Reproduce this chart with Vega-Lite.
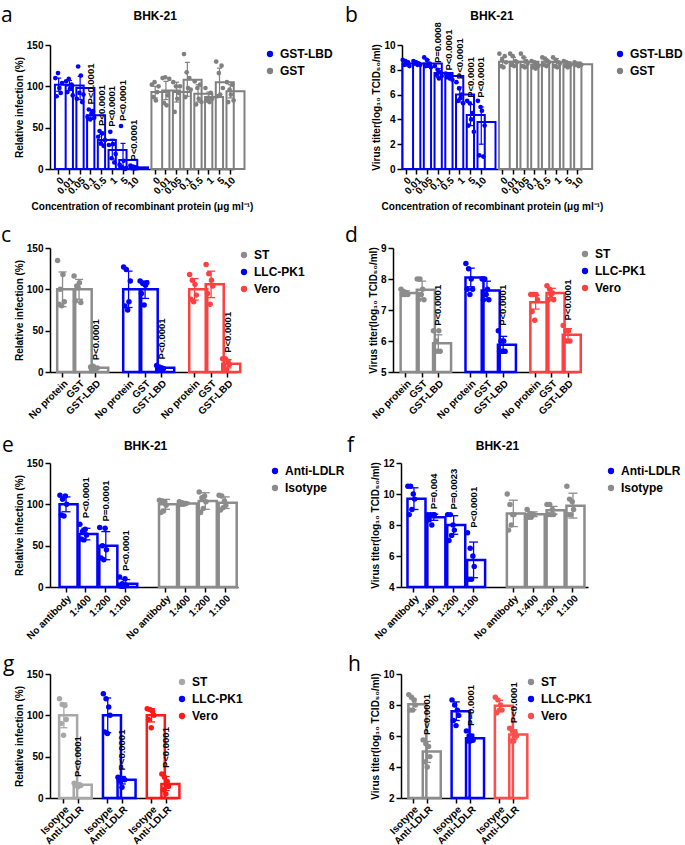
{
"$schema":"https://vega.github.io/schema/vega-lite/v6.json",
"padding":{"left":1,"top":4,"right":0,"bottom":0},
"config":{
 "view":{"stroke":null},
 "font":"Liberation Sans",
 "axis":{"domainColor":"#000","domainWidth":1.5,"tickColor":"#000","tickWidth":1.5,"tickSize":5,"labelFont":"Liberation Sans","labelFontWeight":"bold","labelFontSize":10,"labelColor":"#000","titleFont":"Liberation Sans","titleFontSize":10,"titleFontWeight":"bold","titleColor":"#000","grid":false,"labelOverlap":false},
 "axisY":{"titlePadding":2},
 "axisX":{"labelPadding":1},
 "legend":{"labelFont":"Liberation Sans","labelFontSize":12,"labelFontWeight":"bold","labelColor":"#000","symbolSize":40,"rowPadding":5,"symbolType":"circle","orient":"none"},
 "title":{"font":"Open Sans","fontSize":21,"fontWeight":"normal","color":"#000","anchor":"start","frame":"group"}
},
"datasets":{
"one":[{}],
"a":[
{"c":"L|0","g":"GST-LBD","m":102,"lo":94,"hi":110,"v":[110,88,116,98,92,104]},
{"c":"L|0.01","g":"GST-LBD","m":101,"lo":95,"hi":107,"v":[106,93,109,97,102,89]},
{"c":"L|0.05","g":"GST-LBD","m":98,"lo":84,"hi":112,"v":[85,124,92,113,81,90]},
{"c":"L|0.1","g":"GST-LBD","m":65,"lo":60,"hi":71,"v":[63,72,60,67,70,62],"p":"P<0.0001"},
{"c":"L|0.5","g":"GST-LBD","m":35,"lo":29,"hi":42,"v":[39,46,31,43,28,35],"p":"P<0.0001"},
{"c":"L|1","g":"GST-LBD","m":23,"lo":12,"hi":36,"v":[29,45,13,30,8,18],"p":"P<0.0001"},
{"c":"L|5","g":"GST-LBD","m":11,"lo":2,"hi":31,"v":[5,52,2,10,0,1],"p":"P<0.0001"},
{"c":"L|10","g":"GST-LBD","m":2,"lo":1,"hi":3,"v":[4,1,3,0.5,2,1],"p":"P<0.0001"},
{"c":"G|0","g":"GST","m":93,"lo":86,"hi":100,"v":[102,87,105,83,93,100]},
{"c":"G|0.01","g":"GST","m":95,"lo":84,"hi":106,"v":[110,80,111,77,89,109]},
{"c":"G|0.05","g":"GST","m":93,"lo":81,"hi":105,"v":[105,69,100,85,92,100]},
{"c":"G|0.1","g":"GST","m":108,"lo":88,"hi":129,"v":[139,87,117,98,110,96]},
{"c":"G|0.5","g":"GST","m":91,"lo":81,"hi":102,"v":[106,78,98,85,102,81]},
{"c":"G|1","g":"GST","m":87,"lo":81,"hi":93,"v":[98,83,86,81,92,85]},
{"c":"G|5","g":"GST","m":105,"lo":89,"hi":122,"v":[130,88,116,90,125,98]},
{"c":"G|10","g":"GST","m":94,"lo":86,"hi":102,"v":[105,81,96,90,102,83]}
],
"b":[
{"c":"L|0","g":"GST-LBD","m":8.5,"lo":8.3,"hi":8.7,"v":[8.8,8.4,8.7,8.5,8.6,8.3]},
{"c":"L|0.01","g":"GST-LBD","m":8.5,"lo":8.4,"hi":8.65,"v":[8.7,8.5,8.6,8.4,8.5,8.4]},
{"c":"L|0.05","g":"GST-LBD","m":8.5,"lo":8.2,"hi":8.8,"v":[9.0,8.3,8.8,8.4,8.5,8.2]},
{"c":"L|0.1","g":"GST-LBD","m":7.75,"lo":7.4,"hi":8.1,"v":[8.3,7.6,8.0,7.3,7.8,7.5],"p":"P=0.0008"},
{"c":"L|0.5","g":"GST-LBD","m":7.5,"lo":7.3,"hi":7.7,"v":[7.7,7.4,7.6,7.3,7.5,7.2],"p":"P<0.0001"},
{"c":"L|1","g":"GST-LBD","m":6.0,"lo":5.4,"hi":6.6,"v":[7.0,5.5,6.5,5.7,6.0,5.3],"p":"P<0.0001"},
{"c":"L|5","g":"GST-LBD","m":4.35,"lo":3.5,"hi":5.2,"v":[5.5,3.5,5.3,4.0,4.5,3.0],"p":"P<0.0001"},
{"c":"L|10","g":"GST-LBD","m":3.8,"lo":2.0,"hi":5.0,"v":[5.5,1.1,5.0,4.7,1.0,3.5],"p":"P<0.0001"},
{"c":"G|0","g":"GST","m":8.65,"lo":8.3,"hi":9.0,"v":[9.3,8.3,8.8,8.2,9.1,8.6]},
{"c":"G|0.01","g":"GST","m":8.65,"lo":8.3,"hi":9.0,"v":[9.3,8.4,9.1,8.3,8.7,8.6]},
{"c":"G|0.05","g":"GST","m":8.65,"lo":8.3,"hi":9.0,"v":[9.3,8.3,9.0,8.2,8.7,8.5]},
{"c":"G|0.1","g":"GST","m":8.4,"lo":8.2,"hi":8.6,"v":[8.7,8.2,8.6,8.1,8.4,8.3]},
{"c":"G|0.5","g":"GST","m":8.65,"lo":8.4,"hi":8.9,"v":[9.0,8.4,8.9,8.3,8.7,8.6]},
{"c":"G|1","g":"GST","m":8.6,"lo":8.3,"hi":8.9,"v":[9.0,8.3,8.8,8.2,8.6,8.5]},
{"c":"G|5","g":"GST","m":8.45,"lo":8.3,"hi":8.6,"v":[8.7,8.3,8.6,8.2,8.5,8.4]},
{"c":"G|10","g":"GST","m":8.45,"lo":8.35,"hi":8.55,"v":[8.6,8.4,8.5,8.3,8.5,8.4]}
],
"c":[
{"c":"S|No protein","g":"ST","m":100,"lo":79,"hi":121,"v":[135,82,100,80,118,85]},
{"c":"S|GST","g":"ST","m":100,"lo":88,"hi":112,"v":[116,86,104,102,108,84]},
{"c":"S|GST-LBD","g":"ST","m":5,"lo":4,"hi":6,"v":[6,4,7,5,4,5],"p":"P<0.0001"},
{"c":"K|No protein","g":"LLC-PK1","m":100,"lo":78,"hi":122,"v":[127,80,124,75,85,110]},
{"c":"K|GST","g":"LLC-PK1","m":100,"lo":89,"hi":110,"v":[110,95,107,81,105,108]},
{"c":"K|GST-LBD","g":"LLC-PK1","m":5,"lo":4,"hi":6,"v":[8,4,6,3,5,4],"p":"P<0.0001"},
{"c":"V|No protein","g":"Vero","m":100,"lo":87,"hi":113,"v":[118,88,111,85,106,93]},
{"c":"V|GST","g":"Vero","m":106,"lo":90,"hi":122,"v":[130,95,119,82,111,104]},
{"c":"V|GST-LBD","g":"Vero","m":10,"lo":5,"hi":15,"v":[16,6,16,3,13,9],"p":"P<0.0001"}
],
"d":[
{"c":"S|No protein","g":"ST","m":7.55,"lo":7.5,"hi":7.62,"v":[7.67,7.5,7.6,7.5,7.55,7.5]},
{"c":"S|GST","g":"ST","m":7.65,"lo":7.35,"hi":7.93,"v":[8.0,7.33,8.0,7.5,7.67,7.33]},
{"c":"S|GST-LBD","g":"ST","m":5.93,"lo":5.65,"hi":6.2,"v":[6.33,5.67,6.0,5.67,6.33,5.67],"p":"P<0.0001"},
{"c":"K|No protein","g":"LLC-PK1","m":8.05,"lo":7.75,"hi":8.35,"v":[8.5,7.67,8.33,7.5,8.0,7.67]},
{"c":"K|GST","g":"LLC-PK1","m":7.63,"lo":7.33,"hi":7.93,"v":[8.0,7.33,8.0,7.5,7.67,7.33]},
{"c":"K|GST-LBD","g":"LLC-PK1","m":5.88,"lo":5.62,"hi":6.15,"v":[6.33,5.67,6.0,5.67,6.0,5.67],"p":"P<0.0001"},
{"c":"V|No protein","g":"Vero","m":7.25,"lo":7.03,"hi":7.47,"v":[7.5,6.95,7.5,6.67,7.5,7.33]},
{"c":"V|GST","g":"Vero","m":7.55,"lo":7.4,"hi":7.7,"v":[7.78,7.33,7.67,7.5,7.55,7.33]},
{"c":"V|GST-LBD","g":"Vero","m":6.2,"lo":6.0,"hi":6.4,"v":[6.5,6.0,6.33,6.0,6.33,6.0],"p":"P<0.0001"}
],
"e":[
{"c":"A|No antibody","g":"Anti-LDLR","m":100,"lo":91,"hi":109,"v":[111,87,106,86,110,100]},
{"c":"A|1:400","g":"Anti-LDLR","m":64,"lo":57,"hi":71,"v":[76,58,67,57,70,63],"p":"P<0.0001"},
{"c":"A|1:200","g":"Anti-LDLR","m":50,"lo":33,"hi":67,"v":[72,35,50,33,71,45],"p":"P=0.0001"},
{"c":"A|1:100","g":"Anti-LDLR","m":4,"lo":0,"hi":9,"v":[12,1,4,1,10,2],"p":"P<0.0001"},
{"c":"I|No antibody","g":"Isotype","m":100,"lo":94,"hi":106,"v":[105,90,104,92,103,99]},
{"c":"I|1:400","g":"Isotype","m":101,"lo":100,"hi":102.5,"v":[103,100,102,100,101,101]},
{"c":"I|1:200","g":"Isotype","m":104,"lo":94,"hi":114,"v":[115,90,108,95,110,103]},
{"c":"I|1:100","g":"Isotype","m":102,"lo":95,"hi":109,"v":[111,93,110,96,104,99]}
],
"f":[
{"c":"A|No antibody","g":"Anti-LDLR","m":9.7,"lo":9.0,"hi":10.4,"v":[10.5,8.67,10.5,9.0,10.0,9.67]},
{"c":"A|1:400","g":"Anti-LDLR","m":8.5,"lo":8.3,"hi":8.7,"v":[8.67,8.33,8.67,8.0,8.67,8.67],"p":"P=0.004"},
{"c":"A|1:200","g":"Anti-LDLR","m":8.0,"lo":7.4,"hi":8.6,"v":[8.67,7.0,8.67,7.33,8.0,7.67],"p":"P=0.0023"},
{"c":"A|1:100","g":"Anti-LDLR","m":5.75,"lo":4.6,"hi":6.9,"v":[7.5,4.5,6.5,4.5,6.0,5.33],"p":"P<0.0001"},
{"c":"I|No antibody","g":"Isotype","m":8.75,"lo":7.9,"hi":9.6,"v":[10.0,7.67,9.33,8.0,8.67,8.67]},
{"c":"I|1:400","g":"Isotype","m":8.7,"lo":8.55,"hi":8.85,"v":[9.0,8.5,8.75,8.5,8.67,8.67]},
{"c":"I|1:200","g":"Isotype","m":8.95,"lo":8.7,"hi":9.2,"v":[9.33,8.67,9.33,8.67,9.0,8.67]},
{"c":"I|1:100","g":"Isotype","m":9.25,"lo":8.45,"hi":10.05,"v":[10.5,8.67,9.67,8.67,9.5,9.0]}
],
"g":[
{"c":"S|Isotype","g":"ST","m":100,"lo":85,"hi":115,"v":[120,90,113,76,112,95]},
{"c":"S|Anti-LDLR","g":"ST","m":16,"lo":14.5,"hi":17.5,"v":[18,15,17,14,16,15],"p":"P<0.0001"},
{"c":"K|Isotype","g":"LLC-PK1","m":100,"lo":79,"hi":121,"v":[126,80,120,78,110,100]},
{"c":"K|Anti-LDLR","g":"LLC-PK1","m":22,"lo":17,"hi":26,"v":[25,21,24,13,23,22],"p":"P<0.0001"},
{"c":"V|Isotype","g":"Vero","m":100,"lo":92,"hi":108,"v":[108,95,107,85,105,100]},
{"c":"V|Anti-LDLR","g":"Vero","m":17,"lo":9,"hi":26,"v":[29,10,25,5,20,14],"p":"P<0.0001"}
],
"h":[
{"c":"S|Isotype","g":"ST","m":8.05,"lo":7.7,"hi":8.4,"v":[8.67,7.67,8.5,7.67,8.33,8.0]},
{"c":"S|Anti-LDLR","g":"ST","m":5.0,"lo":4.3,"hi":5.65,"v":[5.75,4.33,5.5,4.0,5.33,4.67],"p":"P<0.0001"},
{"c":"K|Isotype","g":"LLC-PK1","m":7.6,"lo":7.0,"hi":8.2,"v":[8.33,7.0,8.0,6.67,7.67,7.33]},
{"c":"K|Anti-LDLR","g":"LLC-PK1","m":5.85,"lo":5.6,"hi":6.1,"v":[6.33,5.67,6.0,5.67,6.0,5.75],"p":"P=0.0001"},
{"c":"V|Isotype","g":"Vero","m":7.95,"lo":7.6,"hi":8.3,"v":[8.5,7.5,8.33,7.67,8.0,7.67]},
{"c":"V|Anti-LDLR","g":"Vero","m":6.1,"lo":5.8,"hi":6.4,"v":[6.5,5.67,6.33,5.67,6.25,6.0],"p":"P<0.0001"}
]
},
"spacing":13,
"resolve":{"scale":{"color":"independent","stroke":"independent","fill":"independent"}},
"vconcat":[
{"spacing":168,"bounds":"flush","resolve":{"scale":{"color":"independent","stroke":"independent","fill":"independent"}},"hconcat":[
 {"width":184,"height":124,"data":{"name":"a"},
  "title":{"text":"a","dx":-49,"offset":-16},
  "encoding":{
   "x":{"field":"c","type":"nominal","scale":{"domain":["L|0","L|0.01","L|0.05","L|0.1","L|0.5","L|1","L|5","L|10","_|","G|0","G|0.01","G|0.05","G|0.1","G|0.5","G|1","G|5","G|10"],"paddingInner":0.3,"paddingOuter":0.23,"align":1},"axis":{"title":"Concentration of recombinant protein (μg ml⁻¹)","titlePadding":6,"labelAngle":-45,"labelAlign":"right","labelBaseline":"top","labelExpr":"split(datum.value,'|')[1]","tickOpacity":{"condition":{"test":"substring(datum.value,0,1)==='_'","value":0},"value":1}}}
  },
  "layer":[
   {"mark":{"type":"bar","filled":false,"strokeWidth":2},"encoding":{"y":{"field":"m","type":"quantitative","scale":{"domain":[0,150],"nice":false},"axis":{"values":[0,50,100,150],"title":"Relative infection (%)"}},"stroke":{"field":"g","type":"nominal","scale":{"domain":["GST","GST-LBD"],"range":["#808080","#0000ff"]},"legend":null}}},
   {"mark":{"type":"rule","strokeWidth":1.2},"encoding":{"y":{"field":"lo","type":"quantitative","scale":{"domain":[0,150],"nice":false},"axis":{"values":[0,50,100,150],"title":"Relative infection (%)"}},"y2":{"field":"hi"},"stroke":{"field":"g","type":"nominal","scale":{"domain":["GST","GST-LBD"],"range":["#808080","#0000ff"]},"legend":null}}},
   {"mark":{"type":"tick","thickness":1.2,"size":5,"opacity":1},"encoding":{"y":{"field":"hi","type":"quantitative","scale":{"domain":[0,150],"nice":false},"axis":{"values":[0,50,100,150],"title":"Relative infection (%)"}},"fill":{"field":"g","type":"nominal","scale":{"domain":["GST","GST-LBD"],"range":["#808080","#0000ff"]},"legend":null}}},
   {"mark":{"type":"tick","thickness":1.2,"size":5,"opacity":1},"encoding":{"y":{"field":"lo","type":"quantitative","scale":{"domain":[0,150],"nice":false},"axis":{"values":[0,50,100,150],"title":"Relative infection (%)"}},"fill":{"field":"g","type":"nominal","scale":{"domain":["GST","GST-LBD"],"range":["#808080","#0000ff"]},"legend":null}}},
   {"transform":[{"flatten":["v"]},{"window":[{"op":"row_number","as":"r"}],"groupby":["c"]}],"mark":{"type":"circle","size":22,"opacity":1},"encoding":{"xOffset":{"field":"r","type":"ordinal","scale":{"paddingOuter":0.3}},"y":{"field":"v","type":"quantitative","scale":{"domain":[0,150],"nice":false},"axis":{"values":[0,50,100,150],"title":"Relative infection (%)"}},"color":{"field":"g","type":"nominal","scale":{"domain":["GST-LBD","GST"],"range":["#0000ff","#808080"]},"legend":{"title":null,"orient":"none","legendX":214,"legendY":3}}}},
   {"transform":[{"filter":"datum.p"},{"calculate":"max(datum.hi, extent(datum.v)[1])","as":"ty"}],"mark":{"type":"text","angle":270,"align":"left","baseline":"middle","dx":5,"fontSize":9.5,"fontWeight":"bold","color":"#000"},"encoding":{"y":{"field":"ty","type":"quantitative","scale":{"domain":[0,150],"nice":false},"axis":{"values":[0,50,100,150],"title":"Relative infection (%)"}},"text":{"field":"p"}}},
   {"data":{"name":"one"},"mark":{"type":"text","fontSize":12,"fontWeight":"bold","color":"#000","baseline":"middle"},"encoding":{"x":{"datum":"G|0"},"y":{"datum":185,"type":"quantitative","scale":{"domain":[0,150],"nice":false},"axis":{"values":[0,50,100,150],"title":"Relative infection (%)"}},"text":{"value":"BHK-21"}}}
  ]},
 {"width":180,"height":124,"data":{"name":"b"},
  "title":{"text":"b","dx":-57,"offset":-16},
  "encoding":{
   "x":{"field":"c","type":"nominal","scale":{"domain":["L|0","L|0.01","L|0.05","L|0.1","L|0.5","L|1","L|5","L|10","_|","G|0","G|0.01","G|0.05","G|0.1","G|0.5","G|1","G|5","G|10"],"paddingInner":0.3,"paddingOuter":0.03},"axis":{"title":"Concentration of recombinant protein (μg ml⁻¹)","titlePadding":6,"labelAngle":-45,"labelAlign":"right","labelBaseline":"top","labelExpr":"split(datum.value,'|')[1]","tickOpacity":{"condition":{"test":"substring(datum.value,0,1)==='_'","value":0},"value":1}}}
  },
  "layer":[
   {"mark":{"type":"bar","filled":false,"strokeWidth":2},"encoding":{"y":{"field":"m","type":"quantitative","scale":{"domain":[0,10],"nice":false},"axis":{"values":[0,2,4,6,8,10],"title":"Virus titer(log₁₀ TCID₅₀/ml)"}},"stroke":{"field":"g","type":"nominal","scale":{"domain":["GST","GST-LBD"],"range":["#808080","#0000ff"]},"legend":null}}},
   {"mark":{"type":"rule","strokeWidth":1.2},"encoding":{"y":{"field":"lo","type":"quantitative","scale":{"domain":[0,10],"nice":false},"axis":{"values":[0,2,4,6,8,10],"title":"Virus titer(log₁₀ TCID₅₀/ml)"}},"y2":{"field":"hi"},"stroke":{"field":"g","type":"nominal","scale":{"domain":["GST","GST-LBD"],"range":["#808080","#0000ff"]},"legend":null}}},
   {"mark":{"type":"tick","thickness":1.2,"size":5,"opacity":1},"encoding":{"y":{"field":"hi","type":"quantitative","scale":{"domain":[0,10],"nice":false},"axis":{"values":[0,2,4,6,8,10],"title":"Virus titer(log₁₀ TCID₅₀/ml)"}},"fill":{"field":"g","type":"nominal","scale":{"domain":["GST","GST-LBD"],"range":["#808080","#0000ff"]},"legend":null}}},
   {"mark":{"type":"tick","thickness":1.2,"size":5,"opacity":1},"encoding":{"y":{"field":"lo","type":"quantitative","scale":{"domain":[0,10],"nice":false},"axis":{"values":[0,2,4,6,8,10],"title":"Virus titer(log₁₀ TCID₅₀/ml)"}},"fill":{"field":"g","type":"nominal","scale":{"domain":["GST","GST-LBD"],"range":["#808080","#0000ff"]},"legend":null}}},
   {"transform":[{"flatten":["v"]},{"window":[{"op":"row_number","as":"r"}],"groupby":["c"]}],"mark":{"type":"circle","size":22,"opacity":1},"encoding":{"xOffset":{"field":"r","type":"ordinal","scale":{"paddingOuter":0.3}},"y":{"field":"v","type":"quantitative","scale":{"domain":[0,10],"nice":false},"axis":{"values":[0,2,4,6,8,10],"title":"Virus titer(log₁₀ TCID₅₀/ml)"}},"color":{"field":"g","type":"nominal","scale":{"domain":["GST-LBD","GST"],"range":["#0000ff","#808080"]},"legend":{"title":null,"orient":"none","legendX":212,"legendY":3}}}},
   {"transform":[{"filter":"datum.p"},{"calculate":"max(datum.hi, extent(datum.v)[1])","as":"ty"}],"mark":{"type":"text","angle":270,"align":"left","baseline":"middle","dx":3,"fontSize":9.5,"fontWeight":"bold","color":"#000"},"encoding":{"y":{"field":"ty","type":"quantitative","scale":{"domain":[0,10],"nice":false},"axis":{"values":[0,2,4,6,8,10],"title":"Virus titer(log₁₀ TCID₅₀/ml)"}},"text":{"field":"p"}}},
   {"data":{"name":"one"},"mark":{"type":"text","fontSize":12,"fontWeight":"bold","color":"#000","baseline":"middle"},"encoding":{"x":{"datum":"_|"},"y":{"datum":12.35,"type":"quantitative","scale":{"domain":[0,10],"nice":false},"axis":{"values":[0,2,4,6,8,10],"title":"Virus titer(log₁₀ TCID₅₀/ml)"}},"text":{"value":"BHK-21"}}}
  ]}
]},
{"spacing":156,"bounds":"flush","resolve":{"scale":{"color":"independent","stroke":"independent","fill":"independent"}},"hconcat":[
 {"width":187,"height":124,"data":{"name":"c"},
  "title":{"text":"c","dx":-49,"offset":-3},
  "encoding":{
   "x":{"field":"c","type":"nominal","scale":{"domain":["S|No protein","S|GST","S|GST-LBD","_1|","K|No protein","K|GST","K|GST-LBD","_2|","V|No protein","V|GST","V|GST-LBD"],"paddingInner":0.35,"paddingOuter":0.34,"align":0.64},"axis":{"title":null,"labelAngle":-45,"labelAlign":"right","labelBaseline":"top","labelExpr":"split(datum.value,'|')[1]","tickOpacity":{"condition":{"test":"substring(datum.value,0,1)==='_'","value":0},"value":1}}}
  },
  "layer":[
   {"mark":{"type":"bar","filled":false,"strokeWidth":2.5},"encoding":{"y":{"field":"m","type":"quantitative","scale":{"domain":[0,150],"nice":false},"axis":{"values":[0,50,100,150],"title":"Relative infection (%)"}},"stroke":{"field":"g","type":"nominal","scale":{"domain":["Vero","LLC-PK1","ST"],"range":["#ff4040","#0000ff","#8c8c8c"]},"legend":null}}},
   {"mark":{"type":"rule","strokeWidth":1.3},"encoding":{"y":{"field":"lo","type":"quantitative","scale":{"domain":[0,150],"nice":false},"axis":{"values":[0,50,100,150],"title":"Relative infection (%)"}},"y2":{"field":"hi"},"stroke":{"field":"g","type":"nominal","scale":{"domain":["Vero","LLC-PK1","ST"],"range":["#ff4040","#0000ff","#8c8c8c"]},"legend":null}}},
   {"mark":{"type":"tick","thickness":1.3,"size":8,"opacity":1},"encoding":{"y":{"field":"hi","type":"quantitative","scale":{"domain":[0,150],"nice":false},"axis":{"values":[0,50,100,150],"title":"Relative infection (%)"}},"fill":{"field":"g","type":"nominal","scale":{"domain":["Vero","LLC-PK1","ST"],"range":["#ff4040","#0000ff","#8c8c8c"]},"legend":null}}},
   {"mark":{"type":"tick","thickness":1.3,"size":8,"opacity":1},"encoding":{"y":{"field":"lo","type":"quantitative","scale":{"domain":[0,150],"nice":false},"axis":{"values":[0,50,100,150],"title":"Relative infection (%)"}},"fill":{"field":"g","type":"nominal","scale":{"domain":["Vero","LLC-PK1","ST"],"range":["#ff4040","#0000ff","#8c8c8c"]},"legend":null}}},
   {"transform":[{"flatten":["v"]},{"window":[{"op":"row_number","as":"r"}],"groupby":["c"]}],"mark":{"type":"circle","size":30,"opacity":1},"encoding":{"xOffset":{"field":"r","type":"ordinal","scale":{"paddingOuter":0.2}},"y":{"field":"v","type":"quantitative","scale":{"domain":[0,150],"nice":false},"axis":{"values":[0,50,100,150],"title":"Relative infection (%)"}},"color":{"field":"g","type":"nominal","scale":{"domain":["ST","LLC-PK1","Vero"],"range":["#8c8c8c","#0000ff","#ff4040"]},"legend":{"title":null,"orient":"none","legendX":188,"legendY":1}}}},
   {"transform":[{"filter":"datum.p"},{"calculate":"max(datum.hi, extent(datum.v)[1])","as":"ty"}],"mark":{"type":"text","angle":270,"align":"left","baseline":"middle","dx":6,"fontSize":9.5,"fontWeight":"bold","color":"#000"},"encoding":{"y":{"field":"ty","type":"quantitative","scale":{"domain":[0,150],"nice":false},"axis":{"values":[0,50,100,150],"title":"Relative infection (%)"}},"text":{"field":"p"}}}
  ]},
 {"width":185,"height":124,"data":{"name":"d"},
  "title":{"text":"d","dx":-48,"offset":-3},
  "encoding":{
   "x":{"field":"c","type":"nominal","scale":{"domain":["S|No protein","S|GST","S|GST-LBD","_1|","K|No protein","K|GST","K|GST-LBD","_2|","V|No protein","V|GST","V|GST-LBD"],"paddingInner":0.35,"paddingOuter":0.38,"align":0.62},"axis":{"title":null,"labelAngle":-45,"labelAlign":"right","labelBaseline":"top","labelExpr":"split(datum.value,'|')[1]","tickOpacity":{"condition":{"test":"substring(datum.value,0,1)==='_'","value":0},"value":1}}}
  },
  "layer":[
   {"mark":{"type":"bar","filled":false,"strokeWidth":2.5},"encoding":{"y":{"field":"m","type":"quantitative","scale":{"domain":[5,9],"nice":false},"axis":{"values":[5,6,7,8,9],"title":"Virus titer(log₁₀ TCID₅₀/ml)"}},"y2":{"datum":5},"stroke":{"field":"g","type":"nominal","scale":{"domain":["Vero","LLC-PK1","ST"],"range":["#ff4040","#0000ff","#8c8c8c"]},"legend":null}}},
   {"mark":{"type":"rule","strokeWidth":1.3},"encoding":{"y":{"field":"lo","type":"quantitative","scale":{"domain":[5,9],"nice":false},"axis":{"values":[5,6,7,8,9],"title":"Virus titer(log₁₀ TCID₅₀/ml)"}},"y2":{"field":"hi"},"stroke":{"field":"g","type":"nominal","scale":{"domain":["Vero","LLC-PK1","ST"],"range":["#ff4040","#0000ff","#8c8c8c"]},"legend":null}}},
   {"mark":{"type":"tick","thickness":1.3,"size":8,"opacity":1},"encoding":{"y":{"field":"hi","type":"quantitative","scale":{"domain":[5,9],"nice":false},"axis":{"values":[5,6,7,8,9],"title":"Virus titer(log₁₀ TCID₅₀/ml)"}},"fill":{"field":"g","type":"nominal","scale":{"domain":["Vero","LLC-PK1","ST"],"range":["#ff4040","#0000ff","#8c8c8c"]},"legend":null}}},
   {"mark":{"type":"tick","thickness":1.3,"size":8,"opacity":1},"encoding":{"y":{"field":"lo","type":"quantitative","scale":{"domain":[5,9],"nice":false},"axis":{"values":[5,6,7,8,9],"title":"Virus titer(log₁₀ TCID₅₀/ml)"}},"fill":{"field":"g","type":"nominal","scale":{"domain":["Vero","LLC-PK1","ST"],"range":["#ff4040","#0000ff","#8c8c8c"]},"legend":null}}},
   {"transform":[{"flatten":["v"]},{"window":[{"op":"row_number","as":"r"}],"groupby":["c"]}],"mark":{"type":"circle","size":30,"opacity":1},"encoding":{"xOffset":{"field":"r","type":"ordinal","scale":{"paddingOuter":0.2}},"y":{"field":"v","type":"quantitative","scale":{"domain":[5,9],"nice":false},"axis":{"values":[5,6,7,8,9],"title":"Virus titer(log₁₀ TCID₅₀/ml)"}},"color":{"field":"g","type":"nominal","scale":{"domain":["ST","LLC-PK1","Vero"],"range":["#8c8c8c","#0000ff","#ff4040"]},"legend":{"title":null,"orient":"none","legendX":186,"legendY":0}}}},
   {"transform":[{"filter":"datum.p"},{"calculate":"max(datum.hi, extent(datum.v)[1])","as":"ty"}],"mark":{"type":"text","angle":270,"align":"left","baseline":"middle","dx":5,"fontSize":9.5,"fontWeight":"bold","color":"#000"},"encoding":{"y":{"field":"ty","type":"quantitative","scale":{"domain":[5,9],"nice":false},"axis":{"values":[5,6,7,8,9],"title":"Virus titer(log₁₀ TCID₅₀/ml)"}},"text":{"field":"p"}}}
  ]}
]},
{"spacing":163,"bounds":"flush","resolve":{"scale":{"color":"independent","stroke":"independent","fill":"independent"}},"hconcat":[
 {"width":188,"height":124,"data":{"name":"e"},
  "title":{"text":"e","dx":-48,"offset":-16},
  "encoding":{
   "x":{"field":"c","type":"nominal","scale":{"domain":["A|No antibody","A|1:400","A|1:200","A|1:100","_|","I|No antibody","I|1:400","I|1:200","I|1:100"],"paddingInner":0.35,"paddingOuter":0.4,"align":0.6},"axis":{"title":null,"labelAngle":-45,"labelAlign":"right","labelBaseline":"top","labelExpr":"split(datum.value,'|')[1]","tickOpacity":{"condition":{"test":"substring(datum.value,0,1)==='_'","value":0},"value":1}}}
  },
  "layer":[
   {"mark":{"type":"bar","filled":false,"strokeWidth":2.5},"encoding":{"y":{"field":"m","type":"quantitative","scale":{"domain":[0,150],"nice":false},"axis":{"values":[0,50,100,150],"title":"Relative infection (%)"}},"stroke":{"field":"g","type":"nominal","scale":{"domain":["Isotype","Anti-LDLR"],"range":["#8c8c8c","#0000ff"]},"legend":null}}},
   {"mark":{"type":"rule","strokeWidth":1.3},"encoding":{"y":{"field":"lo","type":"quantitative","scale":{"domain":[0,150],"nice":false},"axis":{"values":[0,50,100,150],"title":"Relative infection (%)"}},"y2":{"field":"hi"},"stroke":{"field":"g","type":"nominal","scale":{"domain":["Isotype","Anti-LDLR"],"range":["#8c8c8c","#0000ff"]},"legend":null}}},
   {"mark":{"type":"tick","thickness":1.3,"size":9,"opacity":1},"encoding":{"y":{"field":"hi","type":"quantitative","scale":{"domain":[0,150],"nice":false},"axis":{"values":[0,50,100,150],"title":"Relative infection (%)"}},"fill":{"field":"g","type":"nominal","scale":{"domain":["Isotype","Anti-LDLR"],"range":["#8c8c8c","#0000ff"]},"legend":null}}},
   {"mark":{"type":"tick","thickness":1.3,"size":9,"opacity":1},"encoding":{"y":{"field":"lo","type":"quantitative","scale":{"domain":[0,150],"nice":false},"axis":{"values":[0,50,100,150],"title":"Relative infection (%)"}},"fill":{"field":"g","type":"nominal","scale":{"domain":["Isotype","Anti-LDLR"],"range":["#8c8c8c","#0000ff"]},"legend":null}}},
   {"transform":[{"flatten":["v"]},{"window":[{"op":"row_number","as":"r"}],"groupby":["c"]}],"mark":{"type":"circle","size":30,"opacity":1},"encoding":{"xOffset":{"field":"r","type":"ordinal","scale":{"paddingOuter":0.2}},"y":{"field":"v","type":"quantitative","scale":{"domain":[0,150],"nice":false},"axis":{"values":[0,50,100,150],"title":"Relative infection (%)"}},"color":{"field":"g","type":"nominal","scale":{"domain":["Anti-LDLR","Isotype"],"range":["#0000ff","#8c8c8c"]},"legend":{"title":null,"orient":"none","legendX":219,"legendY":2}}}},
   {"transform":[{"filter":"datum.p"},{"calculate":"max(datum.hi, extent(datum.v)[1])","as":"ty"}],"mark":{"type":"text","angle":270,"align":"left","baseline":"middle","dx":6,"fontSize":9.5,"fontWeight":"bold","color":"#000"},"encoding":{"y":{"field":"ty","type":"quantitative","scale":{"domain":[0,150],"nice":false},"axis":{"values":[0,50,100,150],"title":"Relative infection (%)"}},"text":{"field":"p"}}},
   {"data":{"name":"one"},"mark":{"type":"text","fontSize":12,"fontWeight":"bold","color":"#000","baseline":"middle"},"encoding":{"x":{"datum":"_|"},"y":{"datum":170.5,"type":"quantitative","scale":{"domain":[0,150],"nice":false},"axis":{"values":[0,50,100,150],"title":"Relative infection (%)"}},"text":{"value":"BHK-21"}}}
  ]},
 {"width":187,"height":124,"data":{"name":"f"},
  "title":{"text":"f","dx":-54,"offset":-16},
  "encoding":{
   "x":{"field":"c","type":"nominal","scale":{"domain":["A|No antibody","A|1:400","A|1:200","A|1:100","_|","I|No antibody","I|1:400","I|1:200","I|1:100"],"paddingInner":0.35,"paddingOuter":0.38,"align":0.43},"axis":{"title":null,"labelAngle":-45,"labelAlign":"right","labelBaseline":"top","labelExpr":"split(datum.value,'|')[1]","tickOpacity":{"condition":{"test":"substring(datum.value,0,1)==='_'","value":0},"value":1}}}
  },
  "layer":[
   {"mark":{"type":"bar","filled":false,"strokeWidth":2.5},"encoding":{"y":{"field":"m","type":"quantitative","scale":{"domain":[4,12],"nice":false},"axis":{"values":[4,6,8,10,12],"title":"Virus titer(log₁₀ TCID₅₀/ml)"}},"y2":{"datum":4},"stroke":{"field":"g","type":"nominal","scale":{"domain":["Isotype","Anti-LDLR"],"range":["#8c8c8c","#0000ff"]},"legend":null}}},
   {"mark":{"type":"rule","strokeWidth":1.3},"encoding":{"y":{"field":"lo","type":"quantitative","scale":{"domain":[4,12],"nice":false},"axis":{"values":[4,6,8,10,12],"title":"Virus titer(log₁₀ TCID₅₀/ml)"}},"y2":{"field":"hi"},"stroke":{"field":"g","type":"nominal","scale":{"domain":["Isotype","Anti-LDLR"],"range":["#8c8c8c","#0000ff"]},"legend":null}}},
   {"mark":{"type":"tick","thickness":1.3,"size":9,"opacity":1},"encoding":{"y":{"field":"hi","type":"quantitative","scale":{"domain":[4,12],"nice":false},"axis":{"values":[4,6,8,10,12],"title":"Virus titer(log₁₀ TCID₅₀/ml)"}},"fill":{"field":"g","type":"nominal","scale":{"domain":["Isotype","Anti-LDLR"],"range":["#8c8c8c","#0000ff"]},"legend":null}}},
   {"mark":{"type":"tick","thickness":1.3,"size":9,"opacity":1},"encoding":{"y":{"field":"lo","type":"quantitative","scale":{"domain":[4,12],"nice":false},"axis":{"values":[4,6,8,10,12],"title":"Virus titer(log₁₀ TCID₅₀/ml)"}},"fill":{"field":"g","type":"nominal","scale":{"domain":["Isotype","Anti-LDLR"],"range":["#8c8c8c","#0000ff"]},"legend":null}}},
   {"transform":[{"flatten":["v"]},{"window":[{"op":"row_number","as":"r"}],"groupby":["c"]}],"mark":{"type":"circle","size":30,"opacity":1},"encoding":{"xOffset":{"field":"r","type":"ordinal","scale":{"paddingOuter":0.2}},"y":{"field":"v","type":"quantitative","scale":{"domain":[4,12],"nice":false},"axis":{"values":[4,6,8,10,12],"title":"Virus titer(log₁₀ TCID₅₀/ml)"}},"color":{"field":"g","type":"nominal","scale":{"domain":["Anti-LDLR","Isotype"],"range":["#0000ff","#8c8c8c"]},"legend":{"title":null,"orient":"none","legendX":204,"legendY":2}}}},
   {"transform":[{"filter":"datum.p"},{"calculate":"max(datum.hi, extent(datum.v)[1])","as":"ty"}],"mark":{"type":"text","angle":270,"align":"left","baseline":"middle","dx":5,"fontSize":9.5,"fontWeight":"bold","color":"#000"},"encoding":{"y":{"field":"ty","type":"quantitative","scale":{"domain":[4,12],"nice":false},"axis":{"values":[4,6,8,10,12],"title":"Virus titer(log₁₀ TCID₅₀/ml)"}},"text":{"field":"p"}}},
   {"data":{"name":"one"},"mark":{"type":"text","fontSize":12,"fontWeight":"bold","color":"#000","baseline":"middle","dx":4},"encoding":{"x":{"datum":"_|"},"y":{"datum":13.1,"type":"quantitative","scale":{"domain":[4,12],"nice":false},"axis":{"values":[4,6,8,10,12],"title":"Virus titer(log₁₀ TCID₅₀/ml)"}},"text":{"value":"BHK-21"}}}
  ]}
]},
{"spacing":224,"bounds":"flush","resolve":{"scale":{"color":"independent","stroke":"independent","fill":"independent"}},"hconcat":[
 {"width":127,"height":124,"data":{"name":"g"},
  "title":{"text":"g","dx":-47,"offset":-6},
  "encoding":{
   "x":{"field":"c","type":"nominal","scale":{"domain":["S|Isotype","S|Anti-LDLR","_1|","K|Isotype","K|Anti-LDLR","_2|","V|Isotype","V|Anti-LDLR"],"paddingInner":0.35,"paddingOuter":0.52,"align":0.6},"axis":{"title":null,"labelAngle":-45,"labelAlign":"right","labelBaseline":"top","labelExpr":"split(datum.value,'|')[1]","tickOpacity":{"condition":{"test":"substring(datum.value,0,1)==='_'","value":0},"value":1}}}
  },
  "layer":[
   {"mark":{"type":"bar","filled":false,"strokeWidth":2.5},"encoding":{"y":{"field":"m","type":"quantitative","scale":{"domain":[0,150],"nice":false},"axis":{"values":[0,50,100,150],"title":"Relative infection (%)"}},"stroke":{"field":"g","type":"nominal","scale":{"domain":["Vero","LLC-PK1","ST"],"range":["#ff1a1a","#0000ff","#a8a8a8"]},"legend":null}}},
   {"mark":{"type":"rule","strokeWidth":1.3},"encoding":{"y":{"field":"lo","type":"quantitative","scale":{"domain":[0,150],"nice":false},"axis":{"values":[0,50,100,150],"title":"Relative infection (%)"}},"y2":{"field":"hi"},"stroke":{"field":"g","type":"nominal","scale":{"domain":["Vero","LLC-PK1","ST"],"range":["#ff1a1a","#0000ff","#a8a8a8"]},"legend":null}}},
   {"mark":{"type":"tick","thickness":1.3,"size":7,"opacity":1},"encoding":{"y":{"field":"hi","type":"quantitative","scale":{"domain":[0,150],"nice":false},"axis":{"values":[0,50,100,150],"title":"Relative infection (%)"}},"fill":{"field":"g","type":"nominal","scale":{"domain":["Vero","LLC-PK1","ST"],"range":["#ff1a1a","#0000ff","#a8a8a8"]},"legend":null}}},
   {"mark":{"type":"tick","thickness":1.3,"size":7,"opacity":1},"encoding":{"y":{"field":"lo","type":"quantitative","scale":{"domain":[0,150],"nice":false},"axis":{"values":[0,50,100,150],"title":"Relative infection (%)"}},"fill":{"field":"g","type":"nominal","scale":{"domain":["Vero","LLC-PK1","ST"],"range":["#ff1a1a","#0000ff","#a8a8a8"]},"legend":null}}},
   {"transform":[{"flatten":["v"]},{"window":[{"op":"row_number","as":"r"}],"groupby":["c"]}],"mark":{"type":"circle","size":30,"opacity":1},"encoding":{"xOffset":{"field":"r","type":"ordinal","scale":{"paddingOuter":0.2}},"y":{"field":"v","type":"quantitative","scale":{"domain":[0,150],"nice":false},"axis":{"values":[0,50,100,150],"title":"Relative infection (%)"}},"color":{"field":"g","type":"nominal","scale":{"domain":["ST","LLC-PK1","Vero"],"range":["#a8a8a8","#0000ff","#ff1a1a"]},"legend":{"title":null,"orient":"none","legendX":126,"legendY":2}}}},
   {"transform":[{"filter":"datum.p"},{"calculate":"max(datum.hi, extent(datum.v)[1])","as":"ty"}],"mark":{"type":"text","angle":270,"align":"left","baseline":"middle","dx":6,"fontSize":9.5,"fontWeight":"bold","color":"#000"},"encoding":{"y":{"field":"ty","type":"quantitative","scale":{"domain":[0,150],"nice":false},"axis":{"values":[0,50,100,150],"title":"Relative infection (%)"}},"text":{"field":"p"}}}
  ]},
 {"width":123,"height":124,"data":{"name":"h"},
  "title":{"text":"h","dx":-53,"offset":-6},
  "encoding":{
   "x":{"field":"c","type":"nominal","scale":{"domain":["S|Isotype","S|Anti-LDLR","_1|","K|Isotype","K|Anti-LDLR","_2|","V|Isotype","V|Anti-LDLR"],"paddingInner":0.35,"paddingOuter":0.44,"align":0.58},"axis":{"title":null,"labelAngle":-45,"labelAlign":"right","labelBaseline":"top","labelExpr":"split(datum.value,'|')[1]","tickOpacity":{"condition":{"test":"substring(datum.value,0,1)==='_'","value":0},"value":1}}}
  },
  "layer":[
   {"mark":{"type":"bar","filled":false,"strokeWidth":2.5},"encoding":{"y":{"field":"m","type":"quantitative","scale":{"domain":[2,10],"nice":false},"axis":{"values":[2,4,6,8,10],"title":"Virus titer(log₁₀ TCID₅₀/ml)"}},"y2":{"datum":2},"stroke":{"field":"g","type":"nominal","scale":{"domain":["Vero","LLC-PK1","ST"],"range":["#ff4d4d","#0000ff","#8c8c8c"]},"legend":null}}},
   {"mark":{"type":"rule","strokeWidth":1.3},"encoding":{"y":{"field":"lo","type":"quantitative","scale":{"domain":[2,10],"nice":false},"axis":{"values":[2,4,6,8,10],"title":"Virus titer(log₁₀ TCID₅₀/ml)"}},"y2":{"field":"hi"},"stroke":{"field":"g","type":"nominal","scale":{"domain":["Vero","LLC-PK1","ST"],"range":["#ff4d4d","#0000ff","#8c8c8c"]},"legend":null}}},
   {"mark":{"type":"tick","thickness":1.3,"size":7,"opacity":1},"encoding":{"y":{"field":"hi","type":"quantitative","scale":{"domain":[2,10],"nice":false},"axis":{"values":[2,4,6,8,10],"title":"Virus titer(log₁₀ TCID₅₀/ml)"}},"fill":{"field":"g","type":"nominal","scale":{"domain":["Vero","LLC-PK1","ST"],"range":["#ff4d4d","#0000ff","#8c8c8c"]},"legend":null}}},
   {"mark":{"type":"tick","thickness":1.3,"size":7,"opacity":1},"encoding":{"y":{"field":"lo","type":"quantitative","scale":{"domain":[2,10],"nice":false},"axis":{"values":[2,4,6,8,10],"title":"Virus titer(log₁₀ TCID₅₀/ml)"}},"fill":{"field":"g","type":"nominal","scale":{"domain":["Vero","LLC-PK1","ST"],"range":["#ff4d4d","#0000ff","#8c8c8c"]},"legend":null}}},
   {"transform":[{"flatten":["v"]},{"window":[{"op":"row_number","as":"r"}],"groupby":["c"]}],"mark":{"type":"circle","size":30,"opacity":1},"encoding":{"xOffset":{"field":"r","type":"ordinal","scale":{"paddingOuter":0.2}},"y":{"field":"v","type":"quantitative","scale":{"domain":[2,10],"nice":false},"axis":{"values":[2,4,6,8,10],"title":"Virus titer(log₁₀ TCID₅₀/ml)"}},"color":{"field":"g","type":"nominal","scale":{"domain":["ST","LLC-PK1","Vero"],"range":["#8c8c8c","#0000ff","#ff4d4d"]},"legend":{"title":null,"orient":"none","legendX":124,"legendY":2}}}},
   {"transform":[{"filter":"datum.p"},{"calculate":"max(datum.hi, extent(datum.v)[1])","as":"ty"}],"mark":{"type":"text","angle":270,"align":"left","baseline":"middle","dx":5,"fontSize":9.5,"fontWeight":"bold","color":"#000"},"encoding":{"y":{"field":"ty","type":"quantitative","scale":{"domain":[2,10],"nice":false},"axis":{"values":[2,4,6,8,10],"title":"Virus titer(log₁₀ TCID₅₀/ml)"}},"text":{"field":"p"}}}
  ]}
]}
]
}
